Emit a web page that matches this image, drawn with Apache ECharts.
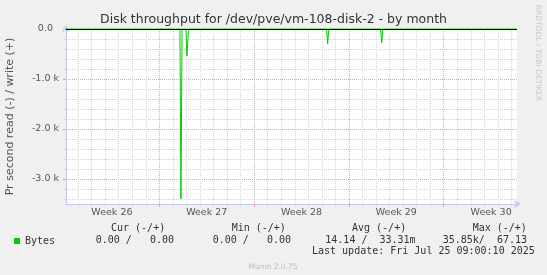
<!DOCTYPE html>
<html><head><meta charset="utf-8">
<script src="https://cdn.jsdelivr.net/npm/echarts@6/dist/echarts.min.js"></script>
<style>html,body{margin:0;padding:0;background:#f0f0f0;}#c{width:547px;height:275px;}</style>
</head><body><div id="c"></div>
<script>
// ---- data ----
const titleText = 'Disk throughput for /dev/pve/vm-108-disk-2 - by month';
const yAxisName = 'Pr second read (-) / write (+)';
const weekLabels = ['Week 26', 'Week 27', 'Week 28', 'Week 29', 'Week 30'];
const weekMidDays = [3.5, 10.5, 17.5, 24.5, 31.5];      // days since Mon 23 Jun 2025
const weekStartDays = [7, 14, 21, 28];
const yLabelValues = [0, -1000, -2000, -3000];
// read samples (days since Mon 23 Jun 2025 00:00, bytes/s; reads drawn negative)
const readDays   = [0.11, 8.52, 8.60, 8.68, 8.96, 9.04, 9.13, 9.21, 19.35, 19.43, 19.51, 23.34, 23.42, 23.50, 33.41];
const readValues = [0,    0,   -3400, 0,    0,   -540, -100,  0,    0,    -300,  0,     0,    -275,   0,    0];
// write samples (tiny, max 67 B/s)
const writeDays   = [0.11, 33.41];
const writeValues = [0, 0];
const legendName = 'Bytes';
const statHeaders = ['Cur (-/+)', 'Min (-/+)', 'Avg (-/+)', 'Max (-/+)'];
const statValues  = ['0.00 /   0.00', '0.00 /   0.00', '14.14 /  33.31m', '35.85k/  67.13'];
const lastUpdate = 'Last update: Fri Jul 25 09:00:10 2025';
const sideText = 'RRDTOOL / TOBI OETIKER';
const footerText = 'Munin 2.0.75';

// ---- chart ----
const X_MIN = 0.11, X_MAX = 33.41, Y_MIN = -3500, Y_MAX = 0;
const minorDays = []; for (let d = 1; d <= 33; d++) minorDays.push(d);
const minorY = []; for (let v = 0; v > Y_MIN; v -= 200) minorY.push(v);

const AXIS_COL = '#c8c8f4';
const MINOR_COL = '#d4d4d4';
const MAJOR_COL = '#eaa0a0';

const chart = echarts.init(document.getElementById('c'), null, {renderer: 'canvas'});

const baseX = {
  type: 'value', min: X_MIN, max: X_MAX, position: 'bottom',
  axisLine: {show: false, onZero: false}, axisLabel: {show: false},
  axisTick: {show: false}, splitLine: {show: false}
};
const baseY = {
  type: 'value', min: Y_MIN, max: Y_MAX, position: 'left',
  axisLine: {show: false, onZero: false}, axisLabel: {show: false},
  axisTick: {show: false}, splitLine: {show: false}
};

const headerX = [111, 231.7, 352, 472.7];
const valueX = [95.7, 212.7, 325.3, 442.7];
const monoFont = '10px "DejaVu Sans Mono"';
const graphics = [];
statHeaders.forEach((t, i) => graphics.push({type: 'text', x: headerX[i], y: 228, style: {text: t, font: monoFont, fill: '#333', textVerticalAlign: 'middle'}}));
statValues.forEach((t, i) => graphics.push({type: 'text', x: valueX[i], y: 240, style: {text: t, font: monoFont, fill: '#333', textVerticalAlign: 'middle'}}));
graphics.push({type: 'text', x: 312, y: 251.5, style: {text: lastUpdate, font: monoFont, fill: '#333', textVerticalAlign: 'middle'}});
graphics.push({type: 'text', x: 273, y: 267, style: {text: footerText, font: '7.5px "DejaVu Sans"', fill: '#bbbbbb', textAlign: 'center', textVerticalAlign: 'middle'}});
graphics.push({type: 'text', x: 538, y: 53, rotation: -Math.PI / 2, style: {text: sideText, font: '7.5px "DejaVu Sans"', fill: '#c8c8c8', textAlign: 'center', textVerticalAlign: 'middle'}});
graphics.push({type: 'text', x: 273.5, y: 20, style: {text: titleText, font: '12.5px "DejaVu Sans"', fill: '#333', textAlign: 'center', textVerticalAlign: 'middle'}});

chart.setOption({
  animation: false,
  backgroundColor: '#f0f0f0',
  grid: {left: 66, right: 30, top: 29, bottom: 71, show: true, backgroundColor: '#ffffff', borderWidth: 0,
    containLabel: false, outerBoundsMode: 'none'},
  legend: {
    data: [legendName], left: 14, top: 236, padding: 0, icon: 'rect', itemWidth: 6, itemHeight: 6,
    textStyle: {fontFamily: 'DejaVu Sans Mono', fontSize: 10, color: '#333'}
  },
  xAxis: [
    Object.assign({}, baseX, {
      axisLine: {show: true, onZero: false, lineStyle: {color: AXIS_COL, width: 1}, symbol: ['none', 'arrow'], symbolSize: [6, 7], symbolOffset: [0, 4]},
      axisTick: {show: true, customValues: minorDays, length: 2, lineStyle: {color: MINOR_COL}},
      splitLine: {show: true, lineStyle: {color: MINOR_COL, type: [1, 1], width: 1}}
    }),
    Object.assign({}, baseX, {
      axisTick: {show: true, customValues: weekStartDays, length: 3, lineStyle: {color: MAJOR_COL}},
      splitLine: {show: true, lineStyle: {color: MAJOR_COL, type: [1, 1], width: 1}}
    }),
    Object.assign({}, baseX, {
      axisLabel: {show: true, customValues: weekMidDays, margin: 4, color: '#555', fontFamily: 'DejaVu Sans', fontSize: 9.5,
        formatter: v => weekLabels[weekMidDays.indexOf(v)]}
    })
  ],
  yAxis: [
    Object.assign({}, baseY, {
      name: yAxisName, nameLocation: 'middle', nameRotate: 90, nameGap: 50,
      nameTextStyle: {color: '#555', fontFamily: 'DejaVu Sans', fontSize: 11},
      axisLine: {show: true, onZero: false, lineStyle: {color: AXIS_COL, width: 1}, symbol: ['none', 'arrow'], symbolSize: [6, 7], symbolOffset: [0, 4]},
      axisTick: {show: true, customValues: minorY, length: 2, lineStyle: {color: MINOR_COL}},
      splitLine: {show: true, lineStyle: {color: MINOR_COL, type: [1, 1], width: 1}}
    }),
    Object.assign({}, baseY, {
      axisTick: {show: true, customValues: yLabelValues, length: 3, lineStyle: {color: MAJOR_COL}},
      splitLine: {show: true, lineStyle: {color: MAJOR_COL, type: [1, 1], width: 1}},
      axisLabel: {show: true, customValues: yLabelValues, margin: 7, color: '#555', fontFamily: 'DejaVu Sans', fontSize: 9.5,
        formatter: v => v === 0 ? '0.0\u00a0\u00a0' : (v / 1000).toFixed(1) + ' k'}
    })
  ],
  series: [
    {
      name: legendName, type: 'line', xAxisIndex: 0, yAxisIndex: 0, showSymbol: false, symbol: 'none',
      data: readDays.map((d, i) => [d, readValues[i]]),
      lineStyle: {color: '#00cc00', width: 1}, itemStyle: {color: '#00cc00'},
      markLine: {silent: true, symbol: 'none', label: {show: false}, data: [{yAxis: 0}],
        lineStyle: {color: '#000000', type: 'solid', width: 1}}
    },
    {
      name: legendName, type: 'line', xAxisIndex: 0, yAxisIndex: 0, showSymbol: false, symbol: 'none',
      data: writeDays.map((d, i) => [d, writeValues[i]]),
      lineStyle: {color: '#00cc00', width: 1}, itemStyle: {color: '#00cc00'}
    }
  ],
  graphic: graphics
});
</script>
</body></html>
